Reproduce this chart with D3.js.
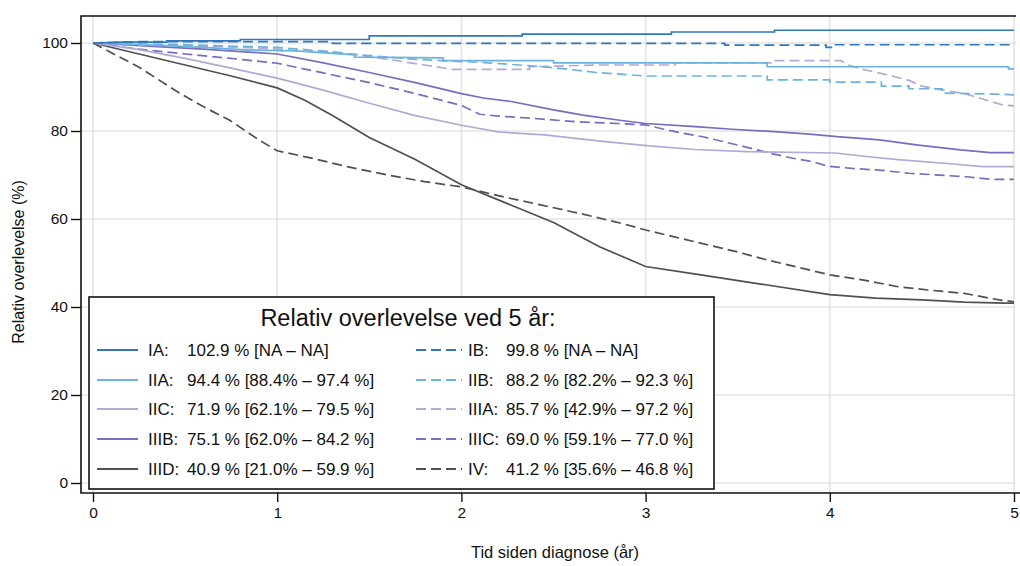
<!DOCTYPE html>
<html>
<head>
<meta charset="utf-8">
<script src="https://cdn.jsdelivr.net/npm/d3@7"></script>
<style>
  html, body { margin: 0; padding: 0; background: #fff; }
  svg { display: block; }
  text { font-family: "Liberation Sans", Arial, sans-serif; fill: #111; }
</style>
</head>
<body>
<svg id="chart" width="1020" height="566"></svg>
<script>
// ---------------- data ----------------
const stages = ["IA", "IB", "IIA", "IIB", "IIC", "IIIA", "IIIB", "IIIC", "IIID", "IV"];
const survival5 = ["102.9", "99.8", "94.4", "88.2", "71.9", "85.7", "75.1", "69.0", "40.9", "41.2"];
const ciLow  = ["NA", "NA", "88.4", "82.2", "62.1", "42.9", "62.0", "59.1", "21.0", "35.6"];
const ciHigh = ["NA", "NA", "97.4", "92.3", "79.5", "97.2", "84.2", "77.0", "59.9", "46.8"];
const xTicks = [0, 1, 2, 3, 4, 5];
const yTicks = [0, 20, 40, 60, 80, 100];
const legendTitle = "Relativ overlevelse ved 5 år:";
const xTitle = "Tid siden diagnose (år)";
const yTitle = "Relativ overlevelse (%)";

// [years, relative survival %]
const curveIA = [[0,100],[0.15,100.2],[0.4,100.2],[0.4,100.5],[0.8,100.5],[0.8,100.8],[1.5,100.8],[1.5,101.6],[2.33,101.6],[2.33,102.0],[3.14,102.0],[3.14,102.5],[3.7,102.5],[3.7,102.9],[5,102.9]];
const curveIB = [[0,100],[0.25,100.3],[1.3,100.3],[1.3,99.9],[3.43,99.9],[3.43,99.5],[3.98,99.5],[3.98,99.0],[4.02,99.0],[4.02,99.6],[5,99.6]];
const curveIIA = [[0,100],[0.3,99.6],[0.6,99.0],[0.85,98.4],[1.1,98.2],[1.42,97.3],[1.42,96.8],[1.9,96.6],[1.9,96.0],[2.5,96.0],[2.5,95.5],[3.66,95.5],[3.66,94.6],[4.97,94.6],[4.97,94.1],[5,94.1]];
const curveIIB = [[0,100],[0.5,99.6],[1.0,99.0],[1.3,98.0],[1.45,97.3],[1.75,96.3],[2.1,95.6],[2.25,95.2],[2.5,94.4],[2.73,93.3],[3.0,92.5],[3.66,92.5],[3.66,91.6],[4.0,91.6],[4.0,91.1],[4.28,91.1],[4.28,90.2],[4.43,90.2],[4.43,89.6],[4.61,89.6],[4.61,88.6],[4.9,88.4],[5,88.2]];
const curveIIC = [[0,100],[0.25,98.5],[0.5,96.5],[0.75,94.3],[1.0,92.0],[1.25,89.3],[1.5,86.3],[1.75,83.5],[2.0,81.3],[2.2,79.8],[2.45,79.1],[2.78,77.6],[3.02,76.6],[3.27,75.8],[3.55,75.3],[4.03,75.0],[4.2,74.2],[4.37,73.5],[4.67,72.5],[4.83,71.9],[5,71.9]];
const curveIIIA = [[0,100],[0.3,99.5],[0.7,99.2],[1.0,98.6],[1.4,97.5],[1.6,96.3],[1.8,95.0],[1.95,94.0],[2.37,94.0],[2.37,94.6],[2.75,95.0],[3.16,95.0],[3.16,95.5],[3.68,95.5],[3.68,96.0],[4.06,96.0],[4.1,95.0],[4.18,94.0],[4.32,92.7],[4.43,91.5],[4.5,90.2],[4.6,89.4],[4.74,88.4],[4.82,87.4],[4.94,85.9],[5,85.7]];
const curveIIIB = [[0,100],[0.3,99.3],[0.6,98.6],[1.0,97.5],[1.25,95.5],[1.5,93.3],[1.75,91.0],[2.0,88.5],[2.12,87.5],[2.27,86.7],[2.5,84.8],[2.66,83.6],[2.85,82.5],[3.0,81.7],[3.27,81.0],[3.47,80.4],[3.68,79.9],[3.89,79.3],[4.04,78.7],[4.27,78.0],[4.48,76.8],[4.71,75.7],[4.87,75.1],[5,75.1]];
const curveIIIC = [[0,100],[0.25,98.6],[0.5,97.5],[0.75,96.5],[1.0,95.4],[1.25,93.2],[1.5,91.0],[1.75,88.5],[2.0,85.8],[2.1,83.8],[2.2,83.4],[2.38,82.9],[2.62,82.1],[2.85,81.7],[3.0,81.4],[3.12,80.2],[3.2,79.5],[3.31,78.7],[3.43,77.5],[3.54,76.4],[3.68,74.9],[3.8,73.8],[3.91,73.0],[3.99,72.0],[4.12,71.5],[4.27,71.1],[4.43,70.4],[4.74,69.6],[4.88,69.0],[5,69.0]];
const curveIIID = [[0,100],[0.25,97.5],[0.5,95.0],[0.75,92.5],[1.0,89.8],[1.15,87.0],[1.3,83.5],[1.5,78.5],[1.75,73.5],[2.0,67.8],[2.25,63.5],[2.5,59.2],[2.75,53.7],[3.0,49.2],[3.3,47.3],[3.66,45.0],[4.0,42.8],[4.25,42.0],[4.5,41.6],[4.73,41.1],[4.95,40.9],[5,40.9]];
const curveIV = [[0,100],[0.1,97.8],[0.25,94.5],[0.47,88.6],[0.6,85.5],[0.74,82.5],[0.9,78.0],[1.0,75.5],[1.2,73.7],[1.38,71.9],[1.6,70.0],[1.8,68.5],[2.0,67.3],[2.2,65.3],[2.43,63.2],[2.65,61.2],[2.87,59.0],[3.0,57.5],[3.15,56.0],[3.3,54.5],[3.5,52.5],[3.66,50.7],[3.83,49.0],[4.0,47.3],[4.2,46.0],[4.37,44.6],[4.55,43.8],[4.73,43.1],[4.92,41.6],[5,41.2]];

const curves = [curveIA, curveIB, curveIIA, curveIIB, curveIIC, curveIIIA, curveIIIB, curveIIIC, curveIIID, curveIV];

// ---------------- styles ----------------
const colors = ["#2f78bd", "#2f78bd", "#6db2dc", "#6db2dc", "#b2a9d6", "#b2a9d6", "#7a6cbf", "#7a6cbf", "#505050", "#505050"];
const dashed = [false, true, false, true, false, true, false, true, false, true];
const dashPattern = "10,5";

// ---------------- layout ----------------
const svg = d3.select("#chart");
const frame = { left: 81, top: 16, right: 1016, bottom: 493 };
const x = d3.scaleLinear().domain([0, 5]).range([93, 1014]);
const y = d3.scaleLinear().domain([0, 100]).range([483, 43]);

// grid
const grid = svg.append("g").attr("stroke", "#e4e4e4").attr("stroke-width", 1.6);
grid.selectAll("line.v").data(xTicks).join("line")
  .attr("x1", d => x(d)).attr("x2", d => x(d))
  .attr("y1", frame.top).attr("y2", frame.bottom);
grid.selectAll("line.h").data(yTicks).join("line")
  .attr("x1", frame.left).attr("x2", frame.right)
  .attr("y1", d => y(d)).attr("y2", d => y(d));

// clip
svg.append("clipPath").attr("id", "plotclip").append("rect")
  .attr("x", frame.left).attr("y", frame.top)
  .attr("width", frame.right - frame.left).attr("height", frame.bottom - frame.top);

const line = d3.line().x(d => x(d[0])).y(d => y(d[1]));
const plot = svg.append("g").attr("clip-path", "url(#plotclip)");
d3.range(curves.length).reverse().forEach(i => {
  plot.append("path")
    .attr("d", line(curves[i]))
    .attr("fill", "none")
    .attr("stroke", colors[i])
    .attr("stroke-width", 1.7)
    .attr("stroke-dasharray", dashed[i] ? dashPattern : null);
});

// frame (left, top, bottom)
svg.append("path")
  .attr("d", `M${frame.right},${frame.top}H${frame.left}V${frame.bottom}H1020`)
  .attr("fill", "none").attr("stroke", "#111").attr("stroke-width", 1.6);

// axes
const yAxis = d3.axisLeft(y).tickValues(yTicks).tickSize(10).tickPadding(3).tickSizeOuter(0);
const gy = svg.append("g").attr("transform", `translate(${frame.left},0)`).call(yAxis);
gy.select(".domain").remove();
gy.selectAll(".tick line").attr("stroke", "#111").attr("stroke-width", 1.4);
gy.selectAll(".tick text").attr("font-size", 15.5).attr("font-family", "Liberation Sans, Arial, sans-serif").attr("fill", "#111");

const xAxis = d3.axisBottom(x).tickValues(xTicks).tickFormat(d3.format("d")).tickSize(9).tickPadding(5).tickSizeOuter(0);
const gx = svg.append("g").attr("transform", `translate(0,${frame.bottom})`).call(xAxis);
gx.select(".domain").remove();
gx.selectAll(".tick line").attr("stroke", "#111").attr("stroke-width", 1.4);
gx.selectAll(".tick text").attr("font-size", 15.5).attr("font-family", "Liberation Sans, Arial, sans-serif").attr("fill", "#111");

// axis titles
svg.append("text").attr("x", 555).attr("y", 558).attr("text-anchor", "middle")
  .attr("font-size", 16.5).text(xTitle);
svg.append("text").attr("transform", "translate(24,262) rotate(-90)").attr("text-anchor", "middle")
  .attr("font-size", 16).text(yTitle);

// legend
const lg = svg.append("g");
lg.append("rect").attr("x", 89).attr("y", 297).attr("width", 625).attr("height", 192)
  .attr("fill", "#fff").attr("stroke", "#111").attr("stroke-width", 1.6);
lg.append("text").attr("x", 408).attr("y", 326).attr("text-anchor", "middle")
  .attr("font-size", 23.5).text(legendTitle);

const rowY = [350, 380, 409, 439, 469];
const cols = [
  { lx1: 97, lx2: 138, tx: 148, vx: 187 },
  { lx1: 416, lx2: 462, tx: 468, vx: 506 }
];
stages.forEach((s, i) => {
  const c = cols[i % 2];
  const ry = rowY[Math.floor(i / 2)];
  lg.append("line").attr("x1", c.lx1).attr("x2", c.lx2).attr("y1", ry).attr("y2", ry)
    .attr("stroke", colors[i]).attr("stroke-width", 1.8)
    .attr("stroke-dasharray", dashed[i] ? dashPattern : null);
  lg.append("text").attr("x", c.tx).attr("y", ry + 6).attr("font-size", 17).text(s + ":");
  const ci = ciLow[i] === "NA" ? "[NA – NA]" : `[${ciLow[i]}% – ${ciHigh[i]} %]`;
  lg.append("text").attr("x", c.vx).attr("y", ry + 6).attr("font-size", 17)
    .text(`${survival5[i]} % ${ci}`);
});
</script>
</body>
</html>
